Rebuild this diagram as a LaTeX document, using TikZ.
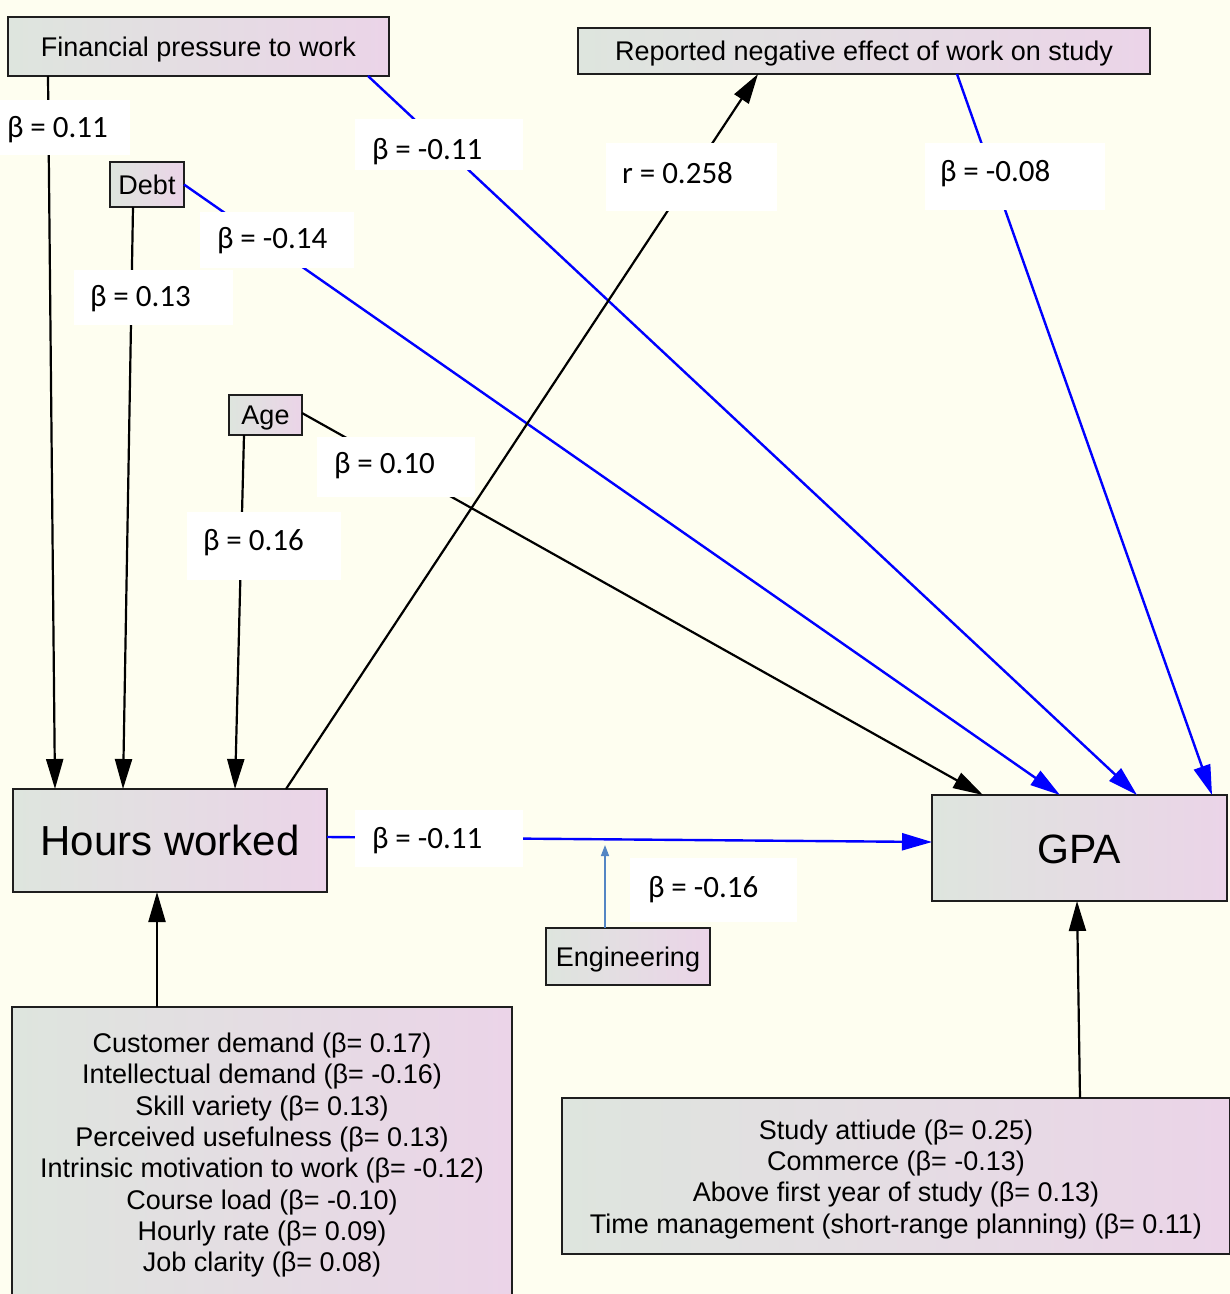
\documentclass[tikz,border=0pt]{standalone}
\usepackage{fontspec}
\setmainfont{Liberation Sans}
\newfontfamily\lblfont{Carlito}
\usetikzlibrary{arrows.meta}
\definecolor{bg}{RGB}{254,254,240}
\definecolor{gl}{RGB}{222,229,222}
\definecolor{gr}{RGB}{235,212,232}
\definecolor{eblue}{RGB}{84,134,196}
\definecolor{bord}{RGB}{30,30,30}
\tikzset{
  vbase/.style={draw=bord, line width=2.5pt, left color=gl, right color=gr,
    inner sep=0pt, outer sep=0pt, anchor=north west,
    font=\fontsize{27}{31.3}\selectfont},
  vbox/.style={vbase, align=center},
  one/.style={vbase, text height=26pt, text depth=7pt},
  big/.style={vbase, text height=41pt, text depth=10.5pt},
  blk/.style={draw=black, line width=2.2pt, -{Triangle[length=30pt,width=17pt]}},
  blu/.style={draw=blue, line width=2.4pt, -{Triangle[length=30pt,width=17pt]}},
  lblbox/.style={fill=white, inner sep=0pt, outer sep=0pt, anchor=north west},
  lbltxt/.style={inner sep=0pt, outer sep=0pt, anchor=base west,
    font=\lblfont\fontsize{31}{36}\selectfont}
}
\begin{document}
\begin{tikzpicture}[x=1pt,y=-1pt]
\useasboundingbox (0,0) rectangle (1230,1294);
\fill[bg] (0,0) rectangle (1230,1294);

% boxes
\node[one, minimum width=381pt, minimum height=59pt] (fin) at (8,17) {Financial pressure to work};
\node[one, minimum width=572pt, minimum height=46pt] (rep) at (578,28) {Reported negative effect of work on study};
\node[one, minimum width=74pt, minimum height=45pt] (debt) at (110,162) {Debt};
\node[one, minimum width=73pt, minimum height=40pt] (age) at (229,395) {Age};
\node[big, minimum width=314pt, minimum height=103pt, font=\fontsize{42}{48}\selectfont] (hours) at (13,789) {Hours worked};
\node[big, minimum width=295pt, minimum height=106pt, font=\fontsize{41}{48}\selectfont] (gpa) at (932,795) {GPA};
\node[one, minimum width=164pt, minimum height=57pt] (eng) at (546,928) {Engineering};
\node[vbox, minimum width=500pt, minimum height=290pt] (lbox) at (12,1007) {\rule{0pt}{26pt}Customer demand (β= 0.17)\\Intellectual demand (β= -0.16)\\Skill variety (β= 0.13)\\Perceived usefulness (β= 0.13)\\Intrinsic motivation to work (β= -0.12)\\Course load (β= -0.10)\\Hourly rate (β= 0.09)\\Job clarity (β= 0.08)};
\node[vbox, minimum width=668pt, minimum height=156pt] (rbox) at (562,1098) {\rule{0pt}{26pt}Study attiude (β= 0.25)\\Commerce (β= -0.13)\\Above first year of study (β= 0.13)\\Time management (short-range planning) (β= 0.11)};

% connectors
\draw[blk] ([xshift=40pt]fin.south west) -- ([xshift=42pt]hours.north west);
\draw[blu] ([xshift=-21pt]fin.south east) -- ([xshift=205pt]gpa.north west);
\draw[blk] ([xshift=23pt]debt.south west) -- ([xshift=110pt]hours.north west);
\draw[blu] (debt.east) -- ([xshift=128pt]gpa.north west);
\draw[blk] ([xshift=15pt]age.south west) -- ([xshift=222pt]hours.north west);
\draw[blk] ([yshift=2pt]age.east) -- ([xshift=51pt]gpa.north west);
\draw[blk] ([xshift=273pt]hours.north west) -- ([xshift=180pt]rep.south west);
\draw[blu] ([xshift=379pt]rep.south west) -- ([xshift=280pt]gpa.north west);
\draw[blu] ([yshift=3.5pt]hours.east) -- ([yshift=6pt]gpa.west);
\coordinate (engt) at (605,845);
\draw[draw=eblue, line width=1.5pt, -{Triangle[length=11pt,width=8pt]}] ([xshift=59pt]eng.north west) -- (engt);
\draw[blk] ([xshift=145pt]lbox.north west) -- ([xshift=144pt]hours.south west);
\draw[blk] ([xshift=518pt]rbox.north west) -- ([xshift=145pt]gpa.south west);

% label backgrounds
\node[lblbox, minimum width=139pt, minimum height=55pt] (b1) at (-9,100) {};
\node[lblbox, minimum width=168pt, minimum height=51pt] (b2) at (355,119) {};
\node[lblbox, minimum width=171pt, minimum height=68pt] (b3) at (606,143) {};
\node[lblbox, minimum width=180pt, minimum height=67pt] (b4) at (925,143) {};
\node[lblbox, minimum width=154pt, minimum height=56pt] (b5) at (200,212) {};
\node[lblbox, minimum width=159pt, minimum height=55pt] (b6) at (74,270) {};
\node[lblbox, minimum width=158pt, minimum height=60pt] (b7) at (317,437) {};
\node[lblbox, minimum width=154pt, minimum height=68pt] (b8) at (187,512) {};
\node[lblbox, minimum width=168pt, minimum height=57pt] (b9) at (355,810) {};
\node[lblbox, minimum width=167pt, minimum height=64pt] (b10) at (630,858) {};
% label texts
\node[lbltxt] (t1) at (7,137) {β = 0.11};
\node[lbltxt] (t2) at (372,159) {β = -0.11};
\node[lbltxt] (t3) at (622,183) {r = 0.258};
\node[lbltxt] (t4) at (940,181) {β = -0.08};
\node[lbltxt] (t5) at (217,248) {β = -0.14};
\node[lbltxt] (t6) at (90,306) {β = 0.13};
\node[lbltxt] (t7) at (334,473) {β = 0.10};
\node[lbltxt] (t8) at (203,550) {β = 0.16};
\node[lbltxt] (t9) at (372,848) {β = -0.11};
\node[lbltxt] (t10) at (648,897) {β = -0.16};
\end{tikzpicture}
\end{document}
